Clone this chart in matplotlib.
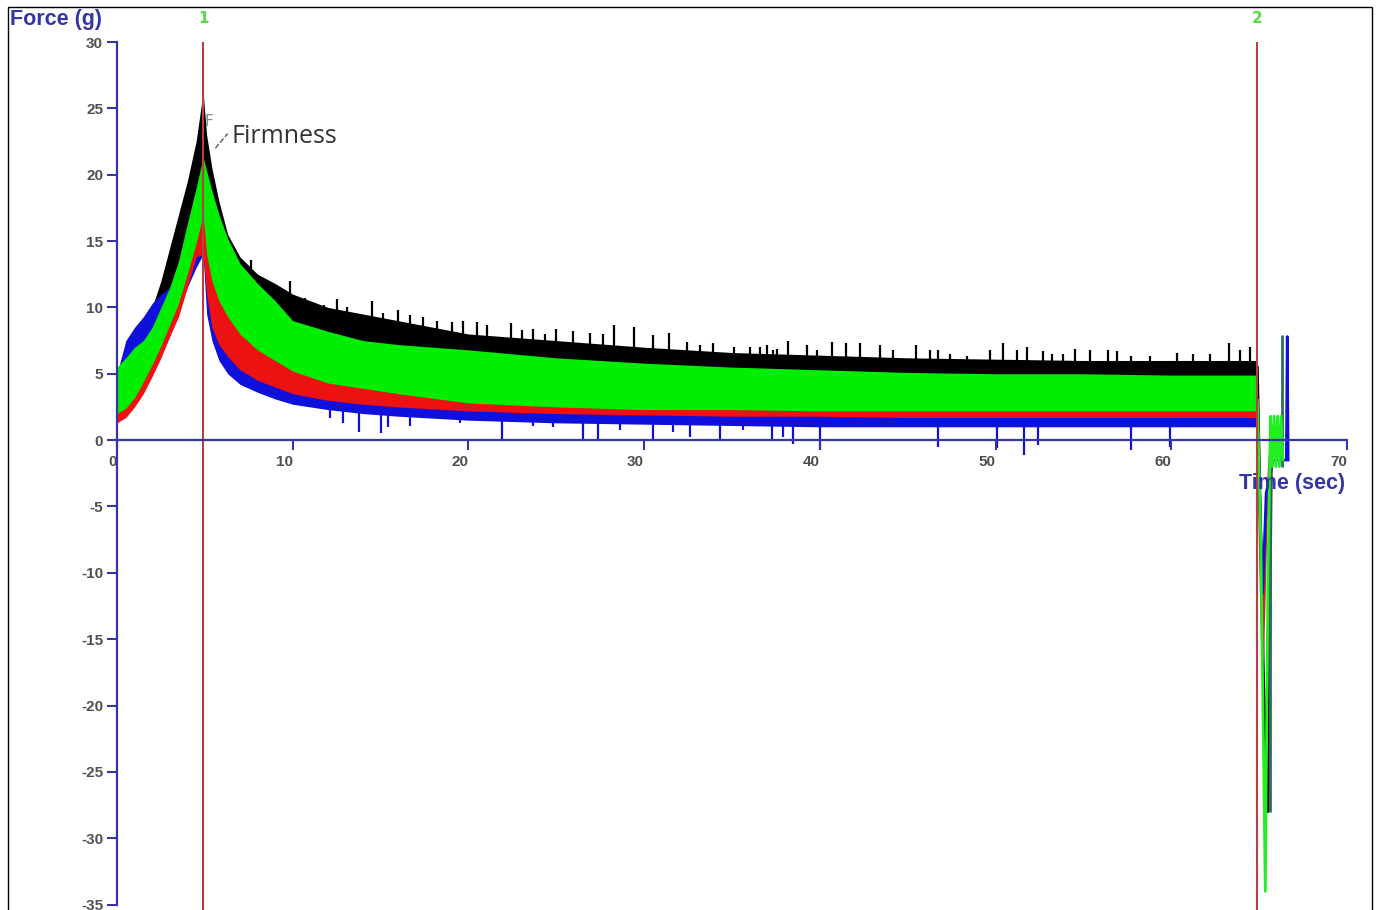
import matplotlib
matplotlib.use("Agg")
import matplotlib.pyplot as plt
from matplotlib.patches import Rectangle
import numpy as np

plt.rcParams["axes.unicode_minus"] = False

# ---- data (Force in g vs Time in sec) ----
t_knots = [0, 0.5, 1, 1.5, 2, 2.5, 3, 3.5, 4, 4.5, 4.9, 5.1, 5.4, 5.8, 6.3, 7, 8, 9, 10,
           12, 14, 16, 20, 25, 30, 35, 40, 45, 50, 55, 60, 64.9]

black_high = [4.0, 5.0, 6.5, 8.0, 10.0, 12.0, 14.5, 17.0, 19.5, 22.5, 26.2, 23.0, 20.5, 18.0, 15.5,
              13.8, 12.5, 11.8, 11.0, 10.0, 9.5, 9.0, 8.0, 7.5, 7.0, 6.6, 6.4, 6.2, 6.1, 6.0, 6.0, 6.0]
black_low = [2.0, 2.5, 3.0, 4.0, 5.0, 6.5, 8.0, 10.0, 12.5, 15.0, 17.0, 14.0, 12.0, 10.5, 9.3,
             8.0, 6.8, 6.0, 5.2, 4.3, 3.9, 3.5, 2.8, 2.5, 2.3, 2.3, 2.2, 2.2, 2.2, 2.2, 2.2, 2.2]

green_high = [5.5, 6.2, 7.0, 7.5, 8.5, 10.0, 11.5, 13.5, 16.3, 19.0, 21.3, 20.3, 18.8, 17.0, 15.2,
              13.3, 11.8, 10.5, 9.0, 8.2, 7.5, 7.2, 6.8, 6.2, 5.8, 5.5, 5.3, 5.1, 5.0, 5.0, 4.9, 4.9]
green_low = [2.0, 2.4, 3.2, 4.4, 5.7, 7.1, 8.7, 10.3, 12.5, 14.8, 17.0, 14.0, 12.0, 10.5, 9.3,
             8.0, 6.8, 6.0, 5.2, 4.3, 3.9, 3.5, 2.8, 2.5, 2.3, 2.3, 2.2, 2.2, 2.2, 2.2, 2.2, 2.2]

red_high = [3.0, 3.5, 4.2, 5.0, 6.0, 7.2, 8.8, 10.5, 12.8, 15.5, 18.0, 16.0, 13.5, 11.0, 9.5,
            8.0, 6.8, 6.0, 5.5, 4.8, 4.3, 4.0, 3.6, 3.3, 3.1, 3.0, 3.0, 3.0, 3.0, 3.0, 3.0, 3.0]
red_low = [1.3, 1.7, 2.5, 3.5, 4.8, 6.2, 7.8, 9.3, 11.5, 13.8, 14.0, 11.0, 8.5, 7.2, 6.3,
           5.3, 4.5, 4.0, 3.5, 3.0, 2.7, 2.5, 2.2, 2.0, 1.9, 1.8, 1.8, 1.7, 1.7, 1.7, 1.7, 1.7]

blue_high = [5.0, 7.5, 8.5, 9.3, 10.3, 11.0, 11.5, 12.5, 13.5, 14.5, 15.0, 13.0, 10.0, 8.5, 7.5,
             6.2, 5.3, 4.7, 4.3, 3.8, 3.5, 3.4, 3.2, 2.9, 2.7, 2.6, 2.5, 2.4, 2.4, 2.4, 2.4, 2.4]
blue_low = [3.0, 4.0, 5.0, 6.0, 7.0, 8.0, 9.0, 10.0, 11.5, 13.0, 14.0, 9.5, 7.5, 6.0, 5.0,
            4.2, 3.6, 3.1, 2.7, 2.3, 2.0, 1.8, 1.5, 1.3, 1.2, 1.1, 1.0, 1.0, 1.0, 1.0, 1.0, 1.0]

# black spikes poking above the band
black_spike_t = [7.6, 9.85, 10.7, 11.37, 11.8, 12.32, 12.5, 13.1, 13.83, 14.5, 15.16, 16.0, 16.7,
                 17.43, 18.2, 19.05, 19.7, 20.5, 21.04, 22.4, 23.03, 23.7, 24.36, 25.0, 25.97,
                 26.9, 27.68, 28.3, 29.4, 30.52, 31.4, 32.42, 33.2, 33.94, 35.1, 36.03, 36.6,
                 37.0, 37.35, 37.55, 38.2, 39.25, 39.82, 40.7, 41.5, 42.3, 43.43, 44.18, 45.5,
                 46.27, 46.7, 47.41, 48.36, 49.7, 50.4, 51.21, 51.8, 52.72, 53.2, 53.86, 54.5,
                 55.4, 56.4, 56.9, 57.7, 58.79, 60.3, 61.26, 62.21, 63.3, 63.92, 64.5]
black_spike_v = [13.6, 12.0, 10.7, 10.05, 10.2, 9.9, 10.6, 10.0, 9.4, 10.5, 9.55, 9.8, 9.4,
                 9.3, 9.0, 8.9, 9.0, 8.9, 8.7, 8.8, 8.3, 8.4, 8.0, 8.4, 8.2,
                 8.1, 8.0, 8.7, 8.5, 7.9, 8.1, 7.4, 7.2, 7.3, 7.0, 7.0, 7.0,
                 7.2, 6.8, 6.9, 7.5, 7.2, 6.8, 7.4, 7.3, 7.3, 7.2, 6.8, 7.2,
                 6.8, 6.8, 6.5, 6.3, 6.8, 7.3, 6.8, 7.0, 6.7, 6.5, 6.5, 6.9,
                 6.8, 6.8, 6.7, 6.3, 6.3, 6.6, 6.5, 6.5, 7.3, 6.8, 7.0]

# blue dips below the band
blue_dip_t = [12.1, 12.88, 13.8, 15.0, 15.4, 16.68, 19.52, 21.9, 23.7, 24.83, 26.5, 27.4,
              28.63, 30.5, 31.66, 32.6, 34.3, 35.65, 37.3, 37.92, 38.5,
              40.0, 46.7, 50.1, 51.6, 52.4, 57.7, 59.9]
blue_dip_v = [1.7, 1.3, 0.6, 0.5, 1.0, 1.1, 1.3, 0.0, 1.1, 1.0, 0.1, 0.0,
              0.75, 0.1, 0.6, 0.2, -0.1, 0.75, 0.0, 0.25, -0.3,
              -0.75, -0.5, -0.6, -1.1, -0.4, -0.75, -0.5]

# probe withdrawal at the end of the test
black_end_t = [64.9, 65.25, 65.5, 65.55, 65.7]
black_end_v = [5.5, -18.0, -28.0, -26.0, 0.5]
red_end_t = [64.9, 65.2, 65.4, 65.7]
red_end_v = [2.5, -16.5, -6.0, 0.5]
blue_end_t = [64.9, 65.2, 65.4, 65.8, 66.55, 66.6, 66.65]
blue_end_v = [1.5, -11.5, -4.0, -1.5, -1.5, 7.8, -1.5]
green_end_t = [64.9, 65.1, 65.35, 65.5, 65.65, 65.75, 65.85, 65.95, 66.05, 66.15, 66.25, 66.35]
green_end_v = [3.0, -8.0, -34.0, -10.0, 1.8, -2.0, 1.8, -2.0, 1.8, -2.0, 1.8, -1.5]
teal_t = [65.6, 66.3]
teal_top = [1.5, 7.9]
teal_bottom = [-28.0, -2.0]

marker_t = [4.9, 64.9]
marker_labels = ["1", "2"]

x_ticks = [0, 10, 20, 30, 40, 50, 60, 70]
y_ticks = [-35, -30, -25, -20, -15, -10, -5, 0, 5, 10, 15, 20, 25, 30]

# ---- figure ----
W, H = 1378, 910
fig = plt.figure(figsize=(W / 100, H / 100), dpi=100)
ax = fig.add_axes([117 / W, 0, (1347 - 117) / W, (H - 42) / H])

navy = "#3535a5"
blue = "#1010dd"
ax.set_xlim(0, 70)
ax.set_ylim(30 - (H - 42) / 13.27, 30)

# spikes start inside the black band so only the tips show
spike_base = np.interp(black_spike_t, t_knots, green_high)
ax.vlines(black_spike_t, spike_base, black_spike_v, color="black", lw=1.6, zorder=1)
ax.vlines(blue_dip_t, blue_dip_v, 2.5, color=blue, lw=1.6, zorder=1)

# bands, drawn back to front
ax.fill_between(t_knots, black_low, black_high, color="black", lw=0, zorder=2)
ax.fill_between(t_knots, blue_low, blue_high, color=blue, lw=0, zorder=3)
ax.fill_between(t_knots, red_low, red_high, color="#ee1111", lw=0, zorder=4)
ax.fill_between(t_knots, green_low, green_high, color="#00ee00", lw=0, zorder=5)

ax.plot(black_end_t, black_end_v, color="black", lw=2, zorder=3)
ax.plot(red_end_t, red_end_v, color="#cc2222", lw=2, zorder=3)
ax.plot(blue_end_t, blue_end_v, color=blue, lw=2, zorder=3)
ax.vlines(teal_t, teal_bottom, teal_top, color="#2f6f60", lw=2, zorder=4)
ax.plot(green_end_t, green_end_v, color="#22ee22", lw=2, zorder=5)

for t, lab in zip(marker_t, marker_labels):
    ax.axvline(t, color="#b84040", lw=1.5, zorder=6)
    ax.text(t, 31.8, lab, color="#55dd44", fontsize=11, fontweight="bold",
            ha="center", va="center", clip_on=False)

# axes styling
for s in ["top", "right"]:
    ax.spines[s].set_visible(False)
ax.spines["bottom"].set_position(("data", 0))
ax.spines["left"].set_bounds(-35, 30)
ax.spines["bottom"].set_bounds(0, 70)
for s in ["left", "bottom"]:
    ax.spines[s].set_color(navy)
    ax.spines[s].set_linewidth(1.6)
    ax.spines[s].set_zorder(7)

ax.set_xticks(x_ticks)
ax.set_yticks(y_ticks)
ax.tick_params(axis="both", colors=navy, labelcolor="#505050", labelsize=11,
               length=7, width=1.5)
ax.tick_params(axis="x", pad=4)
ax.tick_params(axis="y", pad=3)
for lab in ax.get_xticklabels() + ax.get_yticklabels():
    lab.set_fontfamily("Liberation Sans")
    lab.set_fontweight("bold")
for lab in ax.get_xticklabels():
    lab.set_horizontalalignment("right")
ax.patch.set_alpha(0)

# annotation
ax.text(5.0, 24.0, "F", color="#888888", fontsize=11, ha="left", va="center", zorder=8)
ax.plot([5.6, 6.3], [22.0, 23.1], color="#555555", lw=1, ls="--", zorder=8)
ax.text(6.5, 22.9, "Firmness", color="#333333", fontsize=18, family="Open Sans",
        ha="left", va="center", zorder=8)

fig.text(10 / W, 1 - 19 / H, "Force (g)", color=navy, fontsize=15.5,
         fontweight="bold", family="Liberation Sans", ha="left", va="center")
fig.text(1345 / W, 1 - 483 / H, "Time (sec)", color=navy, fontsize=15.5,
         fontweight="bold", family="Liberation Sans", ha="right", va="center")

fig.add_artist(Rectangle((8 / W, -0.01), (1372 - 8) / W, 1.01 - 7 / H,
                         transform=fig.transFigure, fill=False,
                         edgecolor="black", lw=1))

fig.savefig("out.png", dpi=100)
